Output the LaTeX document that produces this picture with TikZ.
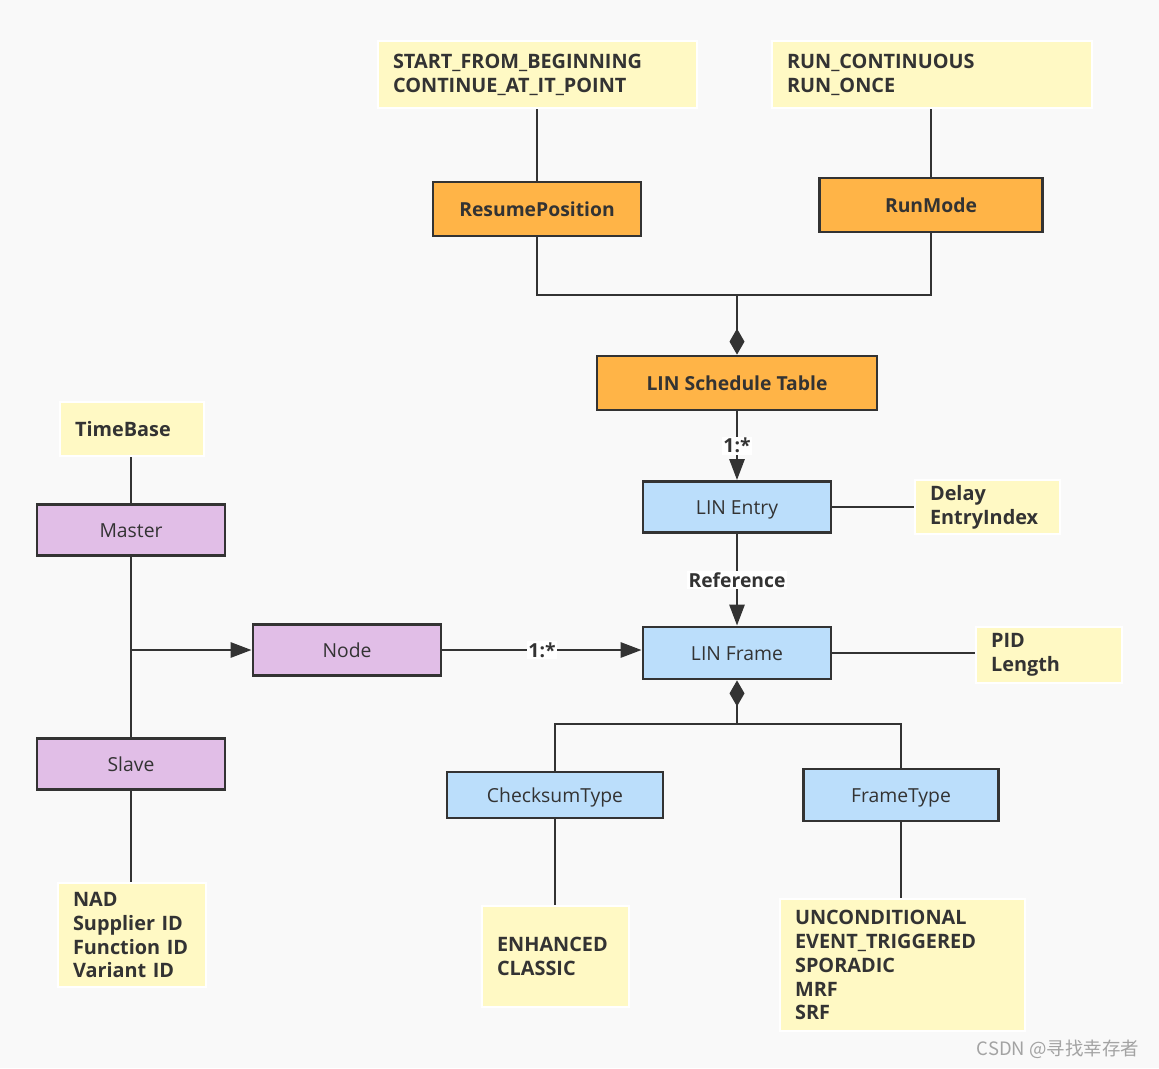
\documentclass[tikz,border=0pt]{standalone}
\usepackage{fontspec}
\setmainfont{Open Sans}
\newfontfamily\cjkfont{Noto Sans CJK SC}
\usepackage{xcolor}
\usetikzlibrary{arrows.meta}
\definecolor{lnline}{HTML}{333333}
\definecolor{lnorange}{HTML}{FFB447}
\definecolor{lnblue}{HTML}{BBDEFB}
\definecolor{lnpurple}{HTML}{E1BEE7}
\definecolor{lnnote}{HTML}{FFF9C4}
\definecolor{lnback}{HTML}{F9F9F9}
\definecolor{lnmark}{HTML}{A3A3A3}
\newcommand{\linfont}{\fontsize{11}{13.6}\selectfont}
\newcommand{\notefont}{\fontsize{11.3}{13.6}\selectfont}

\begin{document}
\begin{tikzpicture}[
    x=0.02cm, y=-0.02cm,
    box/.style={rectangle, draw=lnline, line width=1.6pt, fill=#1, text=lnline, inner sep=0pt, text height=1.6ex, text depth=0pt, font=\linfont},
    note/.style={rectangle, draw=white, line width=1.2pt, fill=lnnote, text=lnline, anchor=north west, align=left, inner xsep=0.3cm, inner ysep=0pt, text width=#1, font=\notefont\bfseries},
    link/.style={draw=lnline, line width=1.6pt},
    tag/.style={fill=white, text=lnline, inner sep=1pt, font=\linfont\bfseries},
    >={Triangle[length=0.42cm, width=0.3cm]},
]
\fill[lnback] (0,0) rectangle (1159,1068);
\useasboundingbox (0,0) rectangle (1159,1068);

% notes
\node[note=5.78cm, minimum height=1.34cm] (startnote) at (377,40) {START\_FROM\_BEGINNING\\CONTINUE\_AT\_IT\_POINT};
\node[note=5.8cm, minimum height=1.34cm] (runnote) at (771,40) {RUN\_CONTINUOUS\\RUN\_ONCE};
\node[note=2.28cm, minimum height=1.08cm] (timenote) at (59,401) {TimeBase};
\node[note=2.3cm, minimum height=1.08cm] (delaynote) at (914,479) {Delay\\EntryIndex};
\node[note=2.32cm, minimum height=1.12cm] (pidnote) at (975,626) {PID\\Length};
\node[note=2.36cm, minimum height=2.08cm] (nadnote) at (57,882) {NAD\\Supplier ID\\Function ID\\Variant ID};
\node[note=2.34cm, minimum height=2.02cm] (enhnote) at (481,905) {ENHANCED\\CLASSIC};
\node[note=4.3cm, minimum height=2.64cm] (uncnote) at (779,898) {UNCONDITIONAL\\EVENT\_TRIGGERED\\SPORADIC\\MRF\\SRF};

% boxes
\node[box=lnorange, font=\linfont\bfseries, minimum width=4.16cm, minimum height=1.08cm] (resume) at (537,209) {ResumePosition};
\node[box=lnorange, font=\linfont\bfseries, minimum width=4.46cm, minimum height=1.08cm] (runmode) at (931,205) {RunMode};
\node[box=lnorange, font=\linfont\bfseries, minimum width=5.6cm, minimum height=1.08cm] (sched) at (737,383) {LIN Schedule Table};
\node[box=lnblue, minimum width=3.76cm, minimum height=1.02cm] (entry) at (737,507) {LIN Entry};
\node[box=lnblue, minimum width=3.76cm, minimum height=1.04cm] (frame) at (737,653) {LIN Frame};
\node[box=lnpurple, minimum width=3.76cm, minimum height=1.02cm] (node) at (347,650) {Node};
\node[box=lnpurple, minimum width=3.76cm, minimum height=1.02cm] (master) at (131,530) {Master};
\node[box=lnpurple, minimum width=3.76cm, minimum height=1.02cm] (slave) at (131,764) {Slave};
\node[box=lnblue, minimum width=4.32cm, minimum height=0.92cm] (cksum) at (555,795) {ChecksumType};
\node[box=lnblue, minimum width=3.9cm, minimum height=1.04cm] (ftype) at (901,795) {FrameType};

% connectors
\coordinate (join) at (737,295);
\coordinate (split) at (737,724);
\draw[link] (resume.north) -- (resume.north |- startnote.south);
\draw[link] (runmode.north) -- (runmode.north |- runnote.south);
\draw[link] (resume.south) |- (join);
\draw[link] (runmode.south) |- (join);
\draw[link, -{Diamond[length=0.52cm, width=0.3cm]}] (join) -- (sched.north);
\draw[link, ->] (sched.south) -- node[tag] {1:*} (entry.north);
\draw[link] (entry.east) -- (entry.east -| delaynote.west);
\draw[link, ->] (entry.south) -- node[tag] {Reference} (frame.north);
\draw[link] (frame.east) -- (frame.east -| pidnote.west);
\draw[link, ->] (node.east) -- node[tag] {1:*} (node.east -| frame.west);
\draw[link] (timenote.south -| master.north) -- (master.north);
\draw[link] (master.south) -- (slave.north);
\draw[link, ->] (master.south |- node.west) -- (node.west);
\draw[link] (slave.south) -- (slave.south |- nadnote.north);
\draw[link, {Diamond[length=0.52cm, width=0.3cm]}-] (frame.south) -- (split);
\draw[link] (split) -| (cksum.north);
\draw[link] (split) -| (ftype.north);
\draw[link] (cksum.south) -- (cksum.south |- enhnote.north);
\draw[link] (ftype.south) -- (ftype.south |- uncnote.north);

\node[text=lnmark, font=\cjkfont\fontsize{10.5}{12}\selectfont] (mark) at (1058,1049) {CSDN @寻找幸存者};
\end{tikzpicture}
\end{document}
